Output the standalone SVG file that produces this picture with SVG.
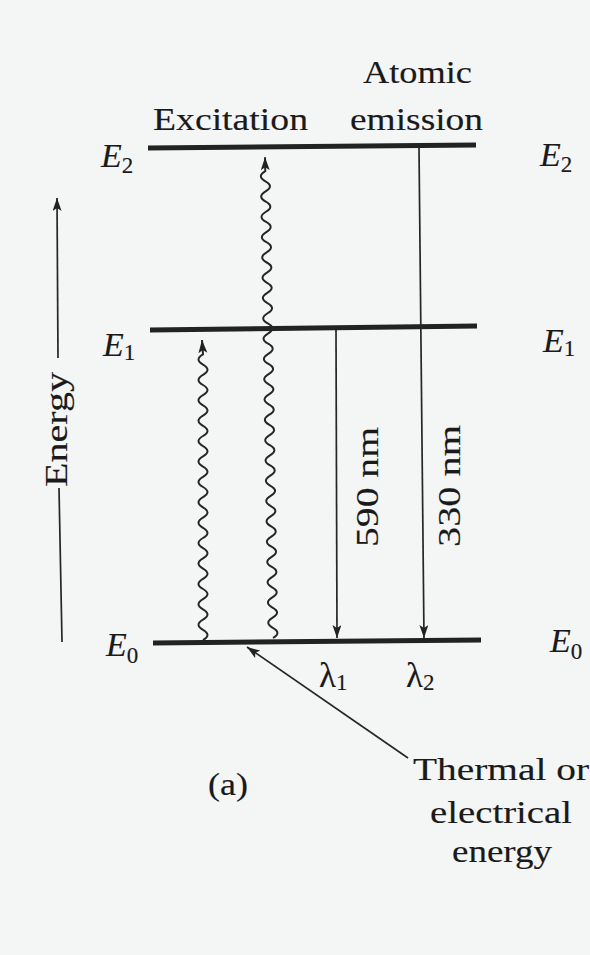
<svg xmlns="http://www.w3.org/2000/svg" width="590" height="955" viewBox="0 0 590 955">
<defs>
<style>
.t{font-family:"Liberation Serif","Times New Roman",serif;font-size:31px;fill:#1a1a1a;stroke:#1a1a1a;stroke-width:0.15}
.e{font-family:"Liberation Serif","Times New Roman",serif;font-style:italic;font-size:34px;fill:#1a1a1a;stroke:#1a1a1a;stroke-width:0.15}
.sub{font-style:normal;font-size:23px}
.lam{font-family:"Liberation Serif","Times New Roman",serif;font-size:35px;fill:#1a1a1a;stroke:#1a1a1a;stroke-width:0.15}
.lvl{stroke:#222;stroke-width:5;stroke-linecap:butt;fill:none}
.thin{stroke:#262626;stroke-width:1.7;fill:none}
.wave{stroke:#262626;stroke-width:2;fill:none}
</style>
<marker id="ah" markerUnits="userSpaceOnUse" markerWidth="14" markerHeight="10" refX="13" refY="4.5" orient="auto">
<path d="M0,0 L13,4.5 L0,9 L3,4.5 z" fill="#222"/>
</marker>
</defs>
<rect width="590" height="955" fill="#f4f5f5"/>

<g id="level-E2">
<line class="lvl" x1="148" y1="148" x2="476" y2="145"/>
<text class="e" x="101" y="167">E<tspan class="sub" dy="6">2</tspan></text>
<text class="e" x="540" y="166">E<tspan class="sub" dy="6">2</tspan></text>
</g>
<g id="level-E1">
<line class="lvl" x1="150" y1="330" x2="477" y2="326"/>
<text class="e" x="103" y="356">E<tspan class="sub" dy="4">1</tspan></text>
<text class="e" x="543" y="352">E<tspan class="sub" dy="4">1</tspan></text>
</g>
<g id="level-E0">
<line class="lvl" x1="153" y1="643" x2="481" y2="640"/>
<text class="e" x="106" y="656">E<tspan class="sub" dy="7">0</tspan></text>
<text class="e" x="550" y="652">E<tspan class="sub" dy="7">0</tspan></text>
</g>

<g id="label-excitation">
<text class="t" x="153" y="130" textLength="155" lengthAdjust="spacingAndGlyphs">Excitation</text>
</g>
<g id="label-emission">
<text class="t" x="363" y="83" textLength="109" lengthAdjust="spacingAndGlyphs">Atomic</text>
<text class="t" x="350" y="130" textLength="133" lengthAdjust="spacingAndGlyphs">emission</text>
</g>
<g id="label-590">
<text class="t" transform="translate(378,547) rotate(-90)" x="0" y="0" textLength="120" lengthAdjust="spacingAndGlyphs">590 nm</text>
</g>
<g id="label-330">
<text class="t" transform="translate(460,547) rotate(-90)" x="0" y="0" textLength="122" lengthAdjust="spacingAndGlyphs">330 nm</text>
</g>
<g id="label-lambda1">
<text class="lam" x="319" y="687">λ<tspan class="sub" dy="3">1</tspan></text>
</g>
<g id="label-lambda2">
<text class="lam" x="406" y="687">λ<tspan class="sub" dy="3">2</tspan></text>
</g>
<g id="energy-axis">
<text class="t" transform="translate(67,487) rotate(-90)" x="0" y="0" textLength="115" lengthAdjust="spacingAndGlyphs">Energy</text>
</g>
<g id="label-thermal">
<text class="t" x="413" y="780" textLength="176" lengthAdjust="spacingAndGlyphs">Thermal or</text>
<text class="t" x="430" y="823" textLength="142" lengthAdjust="spacingAndGlyphs">electrical</text>
<text class="t" x="452" y="862" textLength="100" lengthAdjust="spacingAndGlyphs">energy</text>
</g>
<g id="caption">
<text class="t" x="208" y="795" textLength="40" lengthAdjust="spacingAndGlyphs">(a)</text>
</g>

<g id="connectors">
<path class="wave" marker-end="url(#ah)" d="M203,640 q9,-5.1 0,-10.2 t0,-10.2 t0,-10.2 t0,-10.2 t0,-10.2 t0,-10.2 t0,-10.2 t0,-10.2 t0,-10.2 t0,-10.2 t0,-10.2 t0,-10.2 t0,-10.2 t0,-10.2 t0,-10.2 t0,-10.2 t0,-10.2 t0,-10.2 t0,-10.2 t0,-10.2 t0,-10.2 t0,-10.2 t0,-10.2 t0,-10.2 t0,-10.2 t0,-10.2 t0,-10.2 t0,-10.2 L202,340"/>
<path class="wave" marker-end="url(#ah)" transform="translate(273,638) rotate(-0.95)" d="M0,0 q9,-5.075 0,-10.15 t0,-10.15 t0,-10.15 t0,-10.15 t0,-10.15 t0,-10.15 t0,-10.15 t0,-10.15 t0,-10.15 t0,-10.15 t0,-10.15 t0,-10.15 t0,-10.15 t0,-10.15 t0,-10.15 t0,-10.15 t0,-10.15 t0,-10.15 t0,-10.15 t0,-10.15 t0,-10.15 t0,-10.15 t0,-10.15 t0,-10.15 t0,-10.15 t0,-10.15 t0,-10.15 t0,-10.15 t0,-10.15 t0,-10.15 t0,-10.15 t0,-10.15 t0,-10.15 t0,-10.15 t0,-10.15 t0,-10.15 t0,-10.15 t0,-10.15 t0,-10.15 t0,-10.15 t0,-10.15 t0,-10.15 t0,-10.15 t0,-10.15 t0,-10.15 t0,-10.15 v-14"/>
<line class="thin" x1="336" y1="330" x2="337" y2="638" marker-end="url(#ah)"/>
<line class="thin" x1="419" y1="148" x2="424" y2="638" marker-end="url(#ah)"/>
<line class="thin" x1="408" y1="758" x2="247" y2="647" marker-end="url(#ah)"/>
<line class="thin" x1="58" y1="358" x2="57" y2="198" marker-end="url(#ah)"/>
<line class="thin" x1="62" y1="642" x2="59" y2="488"/>
</g>
</svg>
